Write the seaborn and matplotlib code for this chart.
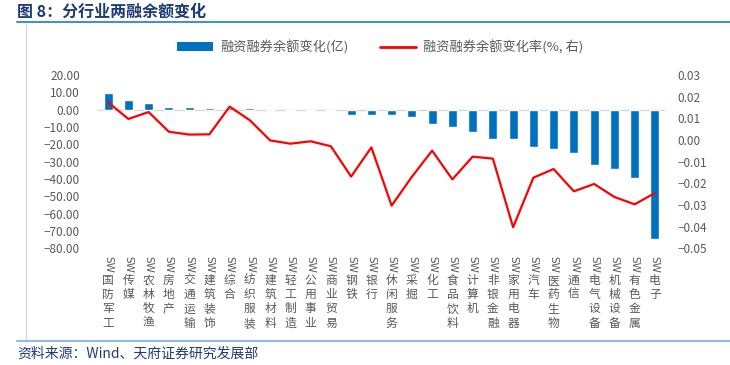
import numpy as np
import pandas as pd
import matplotlib
matplotlib.use("Agg")
import matplotlib.pyplot as plt
import seaborn as sns
from matplotlib.lines import Line2D
from matplotlib.patches import Patch
from matplotlib.transforms import blended_transform_factory

industries = ["国防军工", "传媒", "农林牧渔", "房地产", "交通运输", "建筑装饰", "综合",
              "纺织服装", "建筑材料", "轻工制造", "公用事业", "商业贸易", "钢铁", "银行",
              "休闲服务", "采掘", "化工", "食品饮料", "计算机", "非银金融", "家用电器",
              "汽车", "医药生物", "通信", "电气设备", "机械设备", "有色金属", "电子"]
balance_change = [9.8, 5.8, 3.8, 1.6, 1.3, 1.2, 1.0, 0.8, -0.3, -0.5, -0.7, -0.8, -2.9, -2.9,
                  -3.3, -4.2, -8.1, -9.8, -12.7, -16.7, -17.1, -21.5, -22.5, -25.2, -31.9,
                  -34.4, -39.2, -74.6]
change_rate = [0.0174, 0.0097, 0.0129, 0.0038, 0.0025, 0.0026, 0.0154, 0.0091, -0.0002,
               -0.0017, -0.0006, -0.0029, -0.0169, -0.0034, -0.0303, -0.0170, -0.0049,
               -0.0182, -0.0077, -0.0086, -0.0403, -0.0174, -0.0134, -0.0237, -0.0203,
               -0.0263, -0.0297, -0.0245]
left_ticks = [20, 10, 0, -10, -20, -30, -40, -50, -60, -70, -80]
right_ticks = [0.03, 0.02, 0.01, 0.00, -0.01, -0.02, -0.03, -0.04, -0.05]

sns.set_theme(style="white")
plt.rcParams['font.family'] = ['Noto Sans CJK SC', 'DejaVu Sans']
plt.rcParams['axes.unicode_minus'] = True

W, H = 730, 365
fig = plt.figure(figsize=(7.3, 3.65), dpi=100)
ax = fig.add_axes([98 / W, 1 - 248.3 / H, (665 - 98) / W, (248.3 - 75) / H])

df = pd.DataFrame({"industry": industries, "change": balance_change})
sns.barplot(data=df, x="industry", y="change", color="#0070C0", width=0.45,
            saturation=1, ax=ax)
ax.axhline(0, color="#D9D9D9", lw=1, zorder=0.5)
ax.set_ylim(-80, 20)
ax.set_xlim(-0.5, len(industries) - 0.5)
ax.set_yticks(left_ticks)
ax.set_yticklabels([f"{v:.2f}".replace("-", "\u2212") for v in left_ticks],
                   color="#595959", fontsize=8.5)
ax.tick_params(axis="y", length=0, pad=13)
ax.set_xticks([])
ax.set_xlabel("")
ax.set_ylabel("")
for s in ax.spines.values():
    s.set_visible(False)

ax2 = ax.twinx()
sns.lineplot(x=np.arange(len(industries)), y=change_rate, color="#FF0000", lw=1.6, ax=ax2)
ax2.set_ylim(-0.05, 0.03)
ax2.set_yticks(right_ticks)
ax2.set_yticklabels([f"{v:.2f}".replace("-", "\u2212") for v in right_ticks],
                    color="#595959", fontsize=8.5)
ax2.tick_params(axis="y", length=0, pad=9)
for s in ax2.spines.values():
    s.set_visible(False)
ax2.set_xlim(-0.5, len(industries) - 0.5)

# category labels
tr = blended_transform_factory(ax.transData, fig.transFigure)
for i, name in enumerate(industries):
    ax.text(i, 1 - 256 / H, "SW", rotation=-90, ha="center", va="top", fontsize=7.5,
            color="#595959", transform=tr, family="DejaVu Sans")
    ax.text(i, 1 - 274 / H, "\n".join(name), ha="center", va="top", fontsize=8.5,
            color="#595959", transform=tr, linespacing=1.12)

# legend
handles = [Patch(facecolor="#0070C0", edgecolor="none"),
           Line2D([0], [0], color="#FF0000", lw=2)]
labels = ["融资融券余额变化(亿)", "融资融券余额变化率(%, 右)"]
leg = fig.legend(handles, labels, loc="center", bbox_to_anchor=(0.521, 1 - 47 / H), ncol=2,
                 frameon=False, fontsize=9.5, handlelength=2.7, handleheight=0.6,
                 columnspacing=2.4, handletextpad=0.55)
for t in leg.get_texts():
    t.set_color("#595959")

# title, frame lines, source
fig.text(17 / W, 1 - 12 / H, "图 8：分行业两融余额变化", fontsize=11.5, fontweight="bold",
         color="#1F3A78", va="center", ha="left")
fig.add_artist(Line2D([17 / W, 1], [1 - 22 / H, 1 - 22 / H], color="#4A90C8", lw=1.5))
fig.add_artist(Line2D([26 / W, 26 / W], [1 - 23 / H, 1 - 340 / H], color="#D9D9D9", lw=1))
fig.add_artist(Line2D([17 / W, 1], [1 - 341 / H, 1 - 341 / H], color="#8DBDE3", lw=1.5))
fig.text(17 / W, 1 - 354 / H, "资料来源：Wind、天府证券研究发展部", fontsize=10,
         color="#1F3A78", va="center", ha="left")

fig.savefig("out.png", dpi=100)
